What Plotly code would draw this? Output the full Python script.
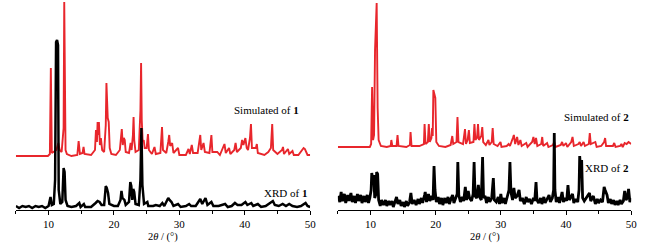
import plotly.graph_objects as go

# ---------------- data (heights in arbitrary intensity units) ----------------
sim1_x = [5, 9.9, 10.2, 10.35, 10.5, 10.8, 11.2, 11.5, 11.7, 12.0, 12.3, 12.4, 12.5, 12.6, 12.8, 13.5,
          14.4, 14.6, 14.8, 15.2, 15.35, 15.5, 16.5, 17.1, 17.25, 17.4, 17.5, 17.6, 17.7, 17.85, 18.0,
          18.2, 18.5, 18.75, 18.85, 18.95, 19.05, 19.2, 19.35, 19.6, 20.3, 20.9, 21.1, 21.2, 21.35,
          21.5, 21.65, 21.8, 22.3, 22.55, 22.7, 22.9, 23.0, 23.1, 23.3, 23.8, 24.05, 24.15, 24.25,
          24.4, 24.55, 24.7, 25.0, 25.2, 25.35, 25.8, 26.2, 26.4, 27.1, 27.35, 27.5, 28.0, 28.3,
          28.45, 28.6, 28.9, 29.1, 29.8, 30.0, 31.0, 31.4, 31.6, 31.9, 32.1, 32.8, 33.2, 33.35,
          33.7, 33.9, 34.6, 34.9, 35.05, 35.8, 36.2, 36.9, 37.1, 37.6, 37.8, 38.4, 38.6, 38.8,
          39.4, 39.6, 39.8, 40.1, 40.3, 40.5, 40.8, 40.95, 41.1, 41.7, 41.85, 42.0, 43.0, 43.6,
          44.0, 44.2, 44.35, 45.0, 45.7, 45.85, 46.0, 46.6, 46.8, 47.3, 47.5, 48.2, 48.8, 49.0,
          49.2, 49.4, 49.6, 50]
sim1_y = [54, 54, 56, 142, 57, 58, 60, 67, 60, 58, 82, 208, 155, 60, 56, 54,
          55, 69, 56, 57, 63, 56, 55, 60, 80, 68, 88, 75, 88, 65, 72,
          60, 58, 85, 127, 100, 92, 88, 62, 56, 55, 60, 80, 81, 65,
          72, 70, 58, 57, 67, 60, 75, 93, 70, 58, 60, 100, 147, 90,
          68, 70, 62, 62, 76, 60, 56, 63, 56, 57, 83, 60, 57, 68,
          75, 64, 67, 57, 62, 55, 55, 61, 56, 65, 57, 57, 75, 60,
          67, 58, 57, 75, 58, 58, 55, 66, 57, 62, 56, 60, 67, 58,
          62, 70, 65, 72, 62, 60, 72, 86, 62, 62, 66, 57, 55, 58,
          62, 86, 60, 56, 60, 63, 56, 61, 56, 59, 55, 55, 60, 62,
          61, 58, 55, 55]

xrd1_x = [5, 5.5, 6, 6.5, 7, 7.5, 8, 8.5, 9, 9.5, 10.0, 10.3, 10.5, 10.8, 11.0, 11.15, 11.3, 11.45,
          11.55, 11.8, 12.1, 12.3, 12.45, 12.6, 12.9, 13.5, 14.2, 14.7, 14.9, 15.4, 15.6, 16.5,
          17.2, 17.5, 17.8, 18.1, 18.5, 18.75, 18.9, 19.1, 19.3, 20.0, 20.6, 21.0, 21.15, 21.3,
          21.6, 21.8, 22.3, 22.5, 22.65, 22.8, 22.95, 23.1, 23.3, 23.8, 24.05, 24.2, 24.35, 24.6,
          25.1, 25.25, 26.0, 26.4, 27.0, 27.4, 27.7, 28.3, 28.5, 28.8, 29.1, 29.8, 30.2, 31.0,
          31.5, 31.8, 32.5, 33.2, 33.5, 34.0, 34.3, 34.9, 35.2, 36.0, 37.0, 37.4, 38.0, 38.5,
          38.9, 39.5, 40.1, 40.4, 41.0, 41.3, 42.0, 42.5, 43.2, 44.0, 44.3, 44.6, 45.2, 45.8,
          46.3, 46.8, 47.3, 48.0, 48.6, 49.3, 49.6, 50]
xrd1_y = [4, 2, 4, 3, 4, 2, 4, 3, 4, 2, 4, 13, 5, 6, 30, 168, 170, 165,
          20, 6, 8, 42, 38, 10, 4, 3, 4, 7, 3, 6, 3, 3,
          7, 9, 8, 5, 5, 24, 22, 17, 6, 4, 4, 10, 19, 12,
          10, 5, 8, 28, 24, 10, 21, 18, 6, 5, 30, 82, 25, 6,
          8, 4, 4, 5, 4, 7, 4, 12, 10, 8, 4, 6, 3, 4,
          6, 4, 4, 11, 6, 12, 5, 8, 4, 4, 6, 3, 4, 7,
          5, 5, 8, 5, 7, 4, 6, 3, 4, 8, 9, 5, 4, 6,
          4, 6, 4, 3, 4, 7, 4, 3]

sim2_x = [5, 9.9, 10.1, 10.25, 10.4, 10.55, 10.7, 10.85, 10.95, 11.1, 11.25, 11.6, 12.5, 13.1, 13.2,
          13.35, 14.0, 14.15, 14.3, 15.5, 16.05, 16.15, 16.3, 17.5, 18.2, 18.3, 18.45, 18.8, 18.95,
          19.1, 19.35, 19.45, 19.55, 19.65, 19.8, 19.95, 20.1, 20.5, 21.5, 22.3, 22.55, 22.7, 23.2,
          23.35, 23.5, 24.2, 24.5, 24.65, 24.9, 25.1, 25.25, 25.8, 25.95, 26.1, 26.35, 26.5, 26.65,
          27.0, 27.15, 27.3, 27.7, 28.1, 28.25, 28.6, 28.75, 28.9, 29.5, 29.95, 30.1, 30.9, 31.2,
          31.4, 31.85, 32.0, 32.2, 32.5, 32.7, 33.0, 33.2, 33.9, 34.1, 34.8, 35.0, 35.2, 35.4,
          35.6, 36.2, 36.35, 36.5, 37.1, 37.3, 38.0, 38.2, 38.4, 39.2, 39.4, 39.6, 40.0, 40.2,
          40.8, 41.0, 41.2, 41.9, 42.1, 42.3, 42.7, 42.9, 43.5, 43.65, 43.8, 44.5, 44.7, 45.4,
          45.85, 46.0, 46.15, 47.2, 47.4, 47.6, 48.3, 48.5, 48.7, 49.0, 49.3, 49.6, 50]
sim2_y = [63, 63, 66, 123, 70, 75, 160, 207, 207, 102, 70, 64, 63, 64, 70,
          64, 64, 75, 64, 63, 65, 78, 64, 64, 66, 86, 66, 68, 86,
          68, 72, 82, 74, 120, 116, 112, 68, 64, 63, 65, 74, 66, 68,
          93, 68, 66, 81, 66, 70, 80, 67, 68, 86, 70, 72, 86, 70,
          74, 83, 68, 65, 70, 65, 68, 82, 66, 64, 68, 63, 64, 66,
          64, 72, 75, 66, 73, 65, 70, 64, 67, 63, 68, 73, 66, 72,
          64, 66, 73, 64, 67, 63, 65, 68, 63, 65, 68, 64, 67, 63,
          68, 73, 64, 66, 68, 64, 68, 64, 66, 77, 66, 68, 63, 64,
          68, 72, 64, 64, 67, 63, 64, 66, 63, 67, 66, 68, 66]

xrd2_x = [5.0, 5.3, 5.5, 5.7, 6.0, 6.2, 6.5, 6.7, 7.0, 7.2, 7.5, 7.7, 8.0, 8.2, 8.5, 8.7, 9.0, 9.2,
          9.5, 9.7, 9.9, 10.1, 10.2, 10.35, 10.5, 10.65, 10.8, 10.95, 11.1, 11.25, 11.5, 11.7, 12.0,
          12.3, 12.5, 12.8, 13.0, 13.3, 13.5, 13.8, 14.0, 14.2, 14.5, 14.7, 15.0, 15.2, 15.5, 15.7,
          16.0, 16.2, 16.4, 16.7, 17.0, 17.3, 17.5, 17.8, 18.0, 18.3, 18.4, 18.6, 18.9, 19.1, 19.4,
          19.6, 19.75, 19.9, 20.1, 20.4, 20.6, 20.9, 21.1, 21.4, 21.6, 21.9, 22.1, 22.4, 22.6, 22.8,
          23.1, 23.3, 23.4, 23.55, 23.8, 24.1, 24.3, 24.55, 24.75, 25.0, 25.2, 25.5, 25.75, 25.9,
          26.05, 26.3, 26.55, 26.75, 27.0, 27.2, 27.35, 27.6, 27.8, 28.1, 28.3, 28.6, 28.85, 29.0,
          29.3, 29.6, 29.8, 30.0, 30.2, 30.5, 30.7, 31.0, 31.25, 31.4, 31.55, 31.8, 32.0, 32.2,
          32.5, 32.8, 33.0, 33.3, 33.6, 33.9, 34.1, 34.4, 34.7, 35.0, 35.2, 35.4, 35.55, 35.8,
          36.1, 36.3, 36.6, 36.8, 37.1, 37.4, 37.6, 37.9, 38.1, 38.2, 38.3, 38.5, 38.8, 39.0,
          39.2, 39.4, 39.6, 39.9, 40.1, 40.3, 40.5, 40.8, 41.0, 41.2, 41.5, 41.8, 42.0, 42.1,
          42.25, 42.4, 42.55, 42.8, 43.1, 43.4, 43.6, 43.8, 44.0, 44.2, 44.5, 44.8, 45.0, 45.3,
          45.6, 45.85, 46.0, 46.3, 46.5, 46.8, 47.0, 47.3, 47.5, 47.8, 48.0, 48.3, 48.5, 48.8,
          49.0, 49.2, 49.4, 49.6, 49.8, 50.0]
xrd2_y = [14, 8, 18, 9, 16, 7, 15, 9, 17, 8, 14, 7, 16, 9, 15, 7, 14, 8,
          15, 7, 12, 20, 37, 30, 35, 12, 15, 38, 36, 10, 4, 10, 5,
          10, 4, 9, 5, 9, 3, 8, 13, 6, 10, 4, 8, 3, 9, 4,
          8, 17, 6, 10, 5, 11, 6, 12, 7, 15, 18, 8, 16, 9, 14,
          10, 44, 20, 8, 13, 6, 12, 5, 12, 7, 13, 6, 12, 15, 7,
          13, 16, 48, 15, 8, 13, 9, 23, 10, 19, 12, 9, 16, 48,
          14, 12, 25, 13, 10, 53, 12, 14, 7, 13, 8, 12, 32, 10,
          8, 13, 6, 16, 7, 12, 6, 13, 20, 48, 18, 10, 22, 12,
          14, 20, 9, 12, 6, 13, 8, 11, 6, 12, 9, 28, 10, 7,
          12, 6, 13, 7, 11, 15, 8, 12, 20, 77, 20, 8, 13, 7,
          12, 18, 8, 12, 9, 25, 10, 13, 16, 7, 11, 8, 20, 54,
          40, 50, 12, 9, 12, 15, 17, 9, 12, 14, 6, 11, 7, 10,
          8, 23, 20, 15, 7, 11, 6, 10, 5, 9, 5, 10, 6, 9,
          19, 10, 12, 21, 8, 12]

tick_vals = [10, 20, 30, 40, 50]
tick_text = ["10", "20", "30", "40", "50"]
labels = ["Simulated of <b>1</b>", "XRD of <b>1</b>", "Simulated of <b>2</b>", "XRD of <b>2</b>"]
x_title = "2<i>θ</i> / (°)"

RED = "#e8262c"
BLACK = "#000000"
FONT = "Liberation Serif, Times New Roman, Times, serif"

fig = go.Figure()
fig.add_trace(go.Scatter(x=sim1_x, y=sim1_y, mode="lines", line=dict(color=RED, width=1.9),
                         xaxis="x", yaxis="y", showlegend=False, hoverinfo="skip"))
fig.add_trace(go.Scatter(x=xrd1_x, y=xrd1_y, mode="lines", line=dict(color=BLACK, width=2.5),
                         xaxis="x", yaxis="y", showlegend=False, hoverinfo="skip"))
fig.add_trace(go.Scatter(x=sim2_x, y=sim2_y, mode="lines", line=dict(color=RED, width=1.9),
                         xaxis="x2", yaxis="y2", showlegend=False, hoverinfo="skip"))
fig.add_trace(go.Scatter(x=xrd2_x, y=xrd2_y, mode="lines", line=dict(color=BLACK, width=2.8),
                         xaxis="x2", yaxis="y2", showlegend=False, hoverinfo="skip"))

xcommon = dict(range=[5, 50], showline=True, linecolor="black", linewidth=1.2, mirror=False,
               ticks="outside", ticklen=4, tickwidth=1, tickcolor="black",
               tickvals=tick_vals, ticktext=tick_text, showgrid=False, zeroline=False,
               tickfont=dict(family=FONT, size=11, color="black"),
               minor=dict(dtick=5, tick0=5, ticks="outside", ticklen=3, tickcolor="black", showgrid=False))
ycommon = dict(range=[0, 210], visible=False, showgrid=False, zeroline=False)

fig.update_layout(
    width=657, height=244,
    margin=dict(l=0, r=0, t=0, b=34),
    paper_bgcolor="white", plot_bgcolor="white",
    xaxis=dict(domain=[16 / 657, 313 / 657], anchor="y", **xcommon),
    xaxis2=dict(domain=[341 / 657, 637 / 657], anchor="y2", **xcommon),
    yaxis=dict(anchor="x", **ycommon),
    yaxis2=dict(anchor="x2", **ycommon),
    font=dict(family=FONT, color="black"),
)

ann_font = dict(family=FONT, size=11, color="black")
fig.add_annotation(x=48.6, y=100, xref="x", yref="y", text=labels[0], showarrow=False,
                   xanchor="right", yanchor="middle", font=ann_font)
fig.add_annotation(x=49.8, y=17, xref="x", yref="y", text=labels[1], showarrow=False,
                   xanchor="right", yanchor="middle", font=ann_font)
fig.add_annotation(x=49.9, y=93, xref="x2", yref="y2", text=labels[2], showarrow=False,
                   xanchor="right", yanchor="middle", font=ann_font)
fig.add_annotation(x=49.9, y=42, xref="x2", yref="y2", text=labels[3], showarrow=False,
                   xanchor="right", yanchor="middle", font=ann_font)
for xr in ["x domain", "x2 domain"]:
    fig.add_annotation(x=0.5, y=-27 / 210, xref=xr, yref="paper",
                       text=x_title, showarrow=False, xanchor="center", yanchor="middle",
                       font=dict(family=FONT, size=10.5, color="black"))

fig.write_html("out.html", config={"displayModeBar": False},
               post_script="document.body.style.margin='0';document.body.style.overflow='hidden';")
